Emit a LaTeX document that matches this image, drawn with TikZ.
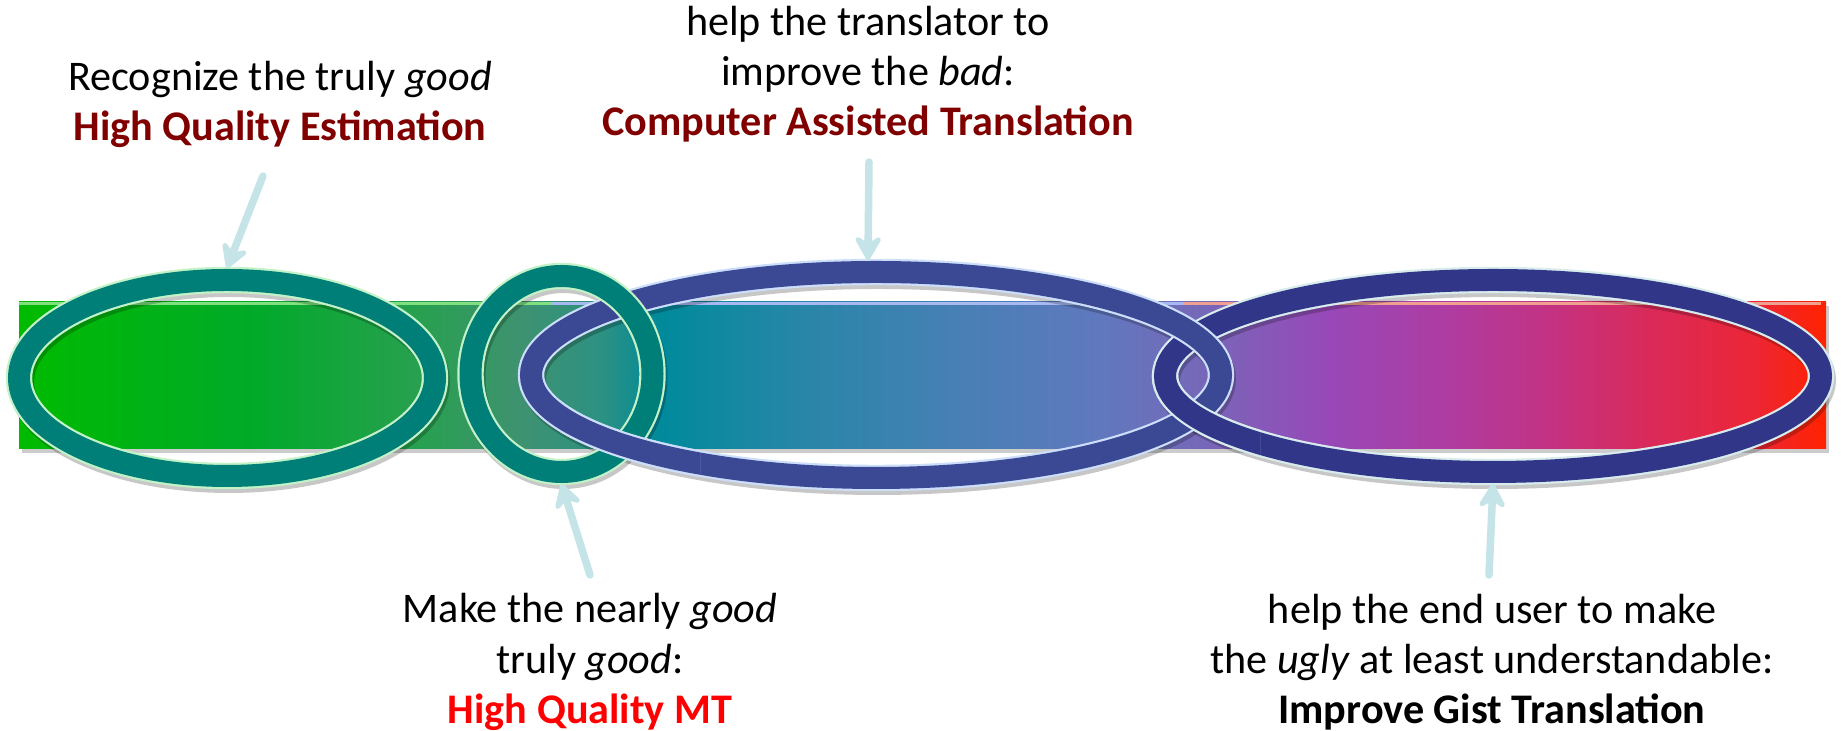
\documentclass[tikz,border=0pt]{standalone}
\usepackage{fontspec}
\setmainfont{Carlito}
\usetikzlibrary{shapes.geometric,arrows.meta}

\definecolor{ringteal}{RGB}{0,127,121}
\definecolor{ringmint}{RGB}{196,242,200}
\definecolor{ringblue}{RGB}{59,72,148}
\definecolor{ringsky}{RGB}{204,222,250}
\definecolor{ringnavy}{RGB}{50,54,136}
\definecolor{ringice}{RGB}{216,236,238}
\definecolor{arrowcyan}{RGB}{196,228,232}
\definecolor{darkred}{RGB}{128,0,0}
\definecolor{stripgreen}{RGB}{128,224,128}
\definecolor{stripblue}{RGB}{168,184,240}
\definecolor{stripsalmon}{RGB}{240,160,144}

% colours along the bar
\definecolor{bar0}{RGB}{0,187,0}
\definecolor{bar1}{RGB}{0,170,40}
\definecolor{bar2}{RGB}{40,160,80}
\definecolor{bar3}{RGB}{62,146,112}
\definecolor{bar4}{RGB}{45,145,130}
\definecolor{bar5}{RGB}{0,138,155}
\definecolor{bar6}{RGB}{40,134,168}
\definecolor{bar7}{RGB}{70,128,180}
\definecolor{bar8}{RGB}{96,120,190}
\definecolor{bar9}{RGB}{118,104,184}
\definecolor{bar10}{RGB}{152,72,184}
\definecolor{bar11}{RGB}{175,60,160}
\definecolor{bar12}{RGB}{195,50,130}
\definecolor{bar13}{RGB}{218,42,90}
\definecolor{bar14}{RGB}{235,38,55}
\definecolor{bar15}{RGB}{255,34,0}

\pgfdeclarehorizontalshading{spectrum}{100bp}{color(0bp)=(bar0); color(25bp)=(bar0);
  color(31.39bp)=(bar1); color(36.10bp)=(bar2); color(38.86bp)=(bar3); color(41.08bp)=(bar4);
  color(42.74bp)=(bar5); color(46.61bp)=(bar6); color(50.76bp)=(bar7); color(54.91bp)=(bar8);
  color(57.68bp)=(bar9); color(61.27bp)=(bar10); color(64.59bp)=(bar11); color(67.36bp)=(bar12);
  color(70.13bp)=(bar13); color(72.90bp)=(bar14); color(75bp)=(bar15); color(100bp)=(bar15)}

\begin{document}
\begin{tikzpicture}[
    ring/.style={ellipse, inner sep=0pt, outer sep=0.12cm, line width=0.022cm, double distance=0.22cm},
    tealring/.style={ring, draw=ringmint, double=ringteal},
    bluering/.style={ring, draw=ringsky, double=ringblue},
    navyring/.style={ring, draw=ringice, double=ringnavy},
    ringshadow/.style={draw=black, draw opacity=0.22, line width=0.26cm},
    pointer/.style={draw=arrowcyan, line width=0.075cm, line cap=round,
        -{Stealth[length=0.3cm, width=0.34cm, inset=0.11cm, round]}},
    remark/.style={align=center, font=\fontsize{12}{14.3}\selectfont}
]
    \useasboundingbox (0,0) rectangle (18.41,7.31);

    % Bar
    \fill[black, opacity=0.2] (0.22,2.78) rectangle (18.29,4.25);
    \shade[shading=spectrum] (0.19,2.82) rectangle (18.26,4.29);
    \fill[stripgreen] (0.19,4.26) rectangle (5.51,4.29);
    \fill[stripblue] (5.51,4.26) rectangle (11.83,4.29);
    \fill[stripsalmon] (11.83,4.26) rectangle (18.21,4.29);

    % Shadows of the rings
    \draw[ringshadow] (2.29,3.49) ellipse [x radius=2.08, y radius=0.98];
    \draw[ringshadow] (14.95,3.51) ellipse [x radius=3.28, y radius=0.96];
    \draw[ringshadow] (8.78,3.52) ellipse [x radius=3.45, y radius=1.03];
    \draw[ringshadow] (5.635,3.53) ellipse [x radius=0.91, y radius=0.98];

    % Rings
    \node[tealring, minimum width=4.16cm, minimum height=1.96cm] (hqe) at (2.27,3.53) {};
    \node[navyring, minimum width=6.56cm, minimum height=1.92cm] (gist) at (14.93,3.55) {};
    \node[bluering, minimum width=6.90cm, minimum height=2.06cm] (cat) at (8.76,3.56) {};
    \node[tealring, minimum width=1.82cm, minimum height=1.96cm] (hqmt) at (5.615,3.57) {};

    % Links: lower crossings go the other way
    \begin{scope}
        \clip (5.6,2.2) rectangle (7.0,3.57);
        \node[bluering, minimum width=6.90cm, minimum height=2.06cm] (catover) at (8.76,3.56) {};
    \end{scope}
    \begin{scope}
        \clip (11.3,2.2) rectangle (12.6,3.55);
        \node[navyring, minimum width=6.56cm, minimum height=1.92cm] (gistover) at (14.93,3.55) {};
    \end{scope}

    % Labels
    \node[remark] (hqeText) at (2.80,6.265) {Recognize the truly \textit{good}\\
        \textcolor{darkred}{\textbf{High Quality Estimation}}};
    \node[remark] (catText) at (8.68,6.57) {help the translator to\\
        improve the \textit{bad}:\\
        \textcolor{darkred}{\textbf{Computer Assisted Translation}}};
    \node[remark] (hqmtText) at (5.90,0.69) {Make the nearly \textit{good}\\
        truly \textit{good}:\\
        \textcolor{red}{\textbf{High Quality MT}}};
    \node[remark] (gistText) at (14.92,0.69) {help the end user to make\\
        the \textit{ugly} at least understandable:\\
        \textbf{Improve Gist Translation}};

    % Arrows
    \coordinate (hqeTail) at (2.63,5.55);
    \coordinate (catTail) at (8.69,5.69);
    \coordinate (hqmtTail) at (5.90,1.56);
    \coordinate (gistTail) at (14.89,1.56);
    \draw[pointer] (hqeTail) -- (hqe.north);
    \draw[pointer] (catTail) -- (cat.94);
    \draw[pointer] (hqmtTail) -- (hqmt.south);
    \draw[pointer] (gistTail) -- (gist.south);
\end{tikzpicture}
\end{document}
